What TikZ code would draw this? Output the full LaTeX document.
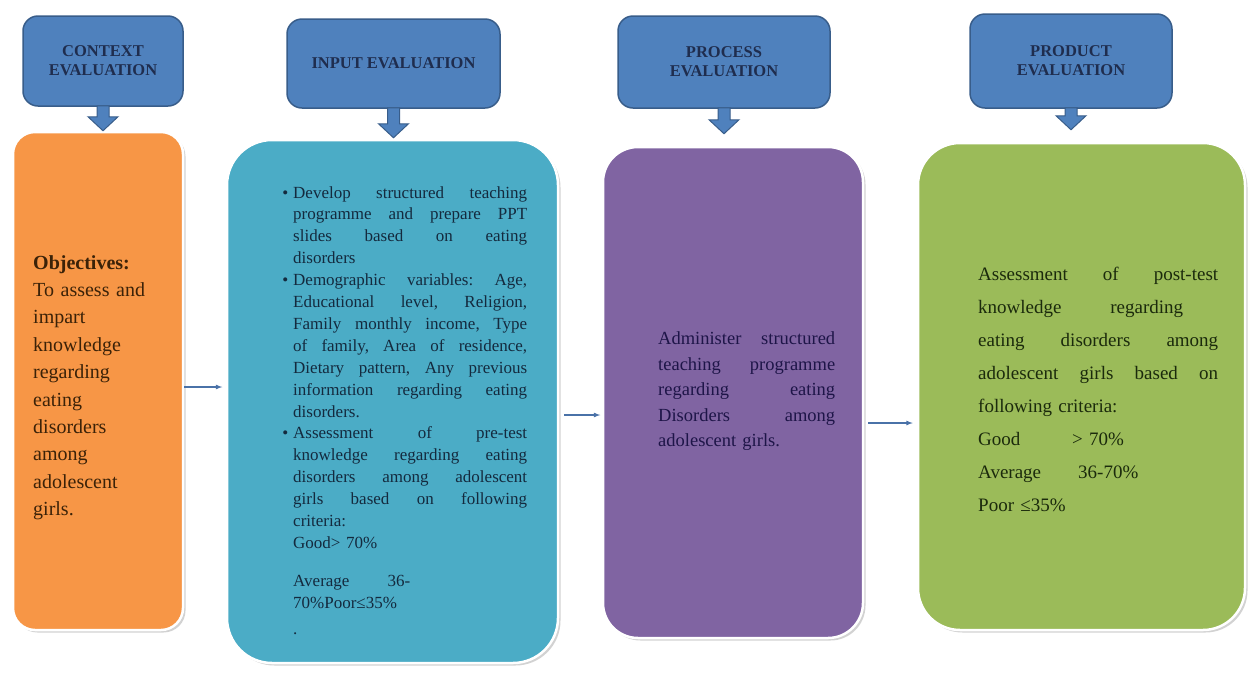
\documentclass[tikz,border=0pt]{standalone}
\usepackage{fontspec}
\setmainfont{Liberation Serif}
\usepackage{xcolor}
\usetikzlibrary{arrows, calc, shadows}

\definecolor{hdrfill}{HTML}{4F81BD}
\definecolor{hdrline}{HTML}{385D8A}
\definecolor{hdrtext}{HTML}{1F2D4E}
\definecolor{ctxfill}{HTML}{F79646}
\definecolor{inpfill}{HTML}{4BACC6}
\definecolor{procfill}{HTML}{8064A2}
\definecolor{prodfill}{HTML}{9BBB59}
\definecolor{ctxtext}{HTML}{3B2208}
\definecolor{inptext}{HTML}{142A3E}
\definecolor{proctext}{HTML}{1E1548}
\definecolor{prodtext}{HTML}{1B2A0C}
\definecolor{linkcol}{HTML}{4A72A8}

\tikzset{
  hdr/.style={draw=hdrline, fill=hdrfill, line width=1.5pt, rounded corners=15pt,
    text=hdrtext, align=center, font=\fontsize{16.5}{19}\selectfont\bfseries},
  panel/.style={draw=white, line width=2.5pt, inner sep=0pt,
    drop shadow={shadow xshift=2.5pt, shadow yshift=-2.5pt, fill=black!35}},
  txt/.style={anchor=north west, inner sep=0pt},
  link/.style={draw=linkcol, line width=1.2pt, -latex}
}

% block arrow from header #1 down to panel #2, tip #3 above the panel
\newcommand{\downto}[3]{%
  \path[fill=hdrfill, draw=hdrline, line width=1pt]
    let \p1=(#1.south), \p2=(#2.north) in
    (\x1-6pt,\y1+1pt) -- (\x1+6pt,\y1+1pt) -- (\x1+6pt,\y2+#3+14pt)
    -- (\x1+15pt,\y2+#3+14pt) -- (\x1,\y2+#3) -- (\x1-15pt,\y2+#3+14pt)
    -- (\x1-6pt,\y2+#3+14pt) -- cycle;}
% a line spread to width #1
\newcommand{\spread}[2]{{\frenchspacing\spaceskip=\fontdimen2\font plus 1fil\relax
  \xspaceskip=\spaceskip\makebox[#1][s]{#2}}}
% one justified line
\newcommand{\jl}[1]{\spread{\hsize}{#1}\par}

\begin{document}
\begin{tikzpicture}[x=1pt, y=-1pt]
\fill[white] (0,0) rectangle (1248,681);
\useasboundingbox (0,0) rectangle (1248,681);

% Headers
\node[hdr, minimum width=160pt, minimum height=90pt] (ctxh) at (103,61) {CONTEXT\\EVALUATION};
\node[hdr, minimum width=213pt, minimum height=89pt] (inph) at (393.5,63.5) {INPUT EVALUATION};
\node[hdr, minimum width=212pt, minimum height=92pt] (proch) at (724,62) {PROCESS\\EVALUATION};
\node[hdr, minimum width=202pt, minimum height=94pt] (prodh) at (1071,61) {PRODUCT\\EVALUATION};

% Panels
\node[panel, fill=ctxfill, rounded corners=22pt, minimum width=170pt, minimum height=498pt] (ctxbox) at (98,381) {};
\node[panel, fill=inpfill, rounded corners=45pt, minimum width=331pt, minimum height=523pt] (inpbox) at (392.5,401.5) {};
\node[panel, fill=procfill, rounded corners=35pt, minimum width=260pt, minimum height=491pt] (procbox) at (733,392.5) {};
\node[panel, fill=prodfill, rounded corners=42pt, minimum width=327pt, minimum height=487pt] (prodbox) at (1081.5,386.5) {};

% Down arrows
\downto{ctxh}{ctxbox}{0pt}
\downto{inph}{inpbox}{1pt}
\downto{proch}{procbox}{12pt}
\downto{prodh}{prodbox}{12pt}

% Texts
\node[txt, text=ctxtext, text width=145pt, font=\fontsize{20}{27.4}\selectfont] (ctxtxt) at (33,255) {%
\textbf{Objectives:}\par
To assess and\par
impart\par
knowledge\par
regarding\par
eating\par
disorders\par
among\par
adolescent\par
girls.\par};

\node[txt, text=inptext, text width=234pt, font=\fontsize{17}{21.9}\selectfont] (inptxt) at (293,186) {%
\leavevmode\llap{\textbullet\hspace{5pt}}\jl{Develop structured teaching}
\jl{programme and prepare PPT}
\jl{slides based on eating}
disorders\par
\leavevmode\llap{\textbullet\hspace{5pt}}\jl{Demographic variables: Age,}
\jl{Educational level, Religion,}
\jl{Family monthly income, Type}
\jl{of family, Area of residence,}
\jl{Dietary pattern, Any previous}
\jl{information regarding eating}
disorders.\par
\leavevmode\llap{\textbullet\hspace{5pt}}\jl{Assessment of pre-test}
\jl{knowledge regarding eating}
\jl{disorders among adolescent}
\jl{girls based on following}
criteria:\par
Good> 70\%\par
\vspace{16pt}
\spread{117pt}{Average 36-}\par
70\%Poor≤35\%\par
\vspace{4pt}
.\par};

\node[txt, text=proctext, text width=177pt, font=\fontsize{18.5}{25.5}\selectfont] (proctxt) at (658,331.5) {%
\jl{Administer structured}
\jl{teaching programme}
\jl{regarding eating}
\jl{Disorders among}
adolescent girls.\par};

\node[txt, text=prodtext, text width=240pt, font=\fontsize{19}{33}\selectfont] (prodtxt) at (978,266.5) {%
\jl{Assessment of post-test}
\spread{205pt}{knowledge regarding}\par
\jl{eating disorders among}
\jl{adolescent girls based on}
following criteria:\par
\makebox[94pt][l]{Good}> 70\%\par
\makebox[100pt][l]{Average}36-70\%\par
Poor ≤35\%\par};

% Links
\draw[link, shorten >=3.5pt] (ctxbox.east |- 0,387) -- (inpbox.west |- 0,387);
\draw[link, shorten <=5pt, shorten >=1.5pt] (inpbox.east |- 0,415) -- (procbox.west |- 0,415);
\draw[link, shorten <=4pt, shorten >=4pt] (procbox.east |- 0,423) -- (prodbox.west |- 0,423);
\end{tikzpicture}
\end{document}
